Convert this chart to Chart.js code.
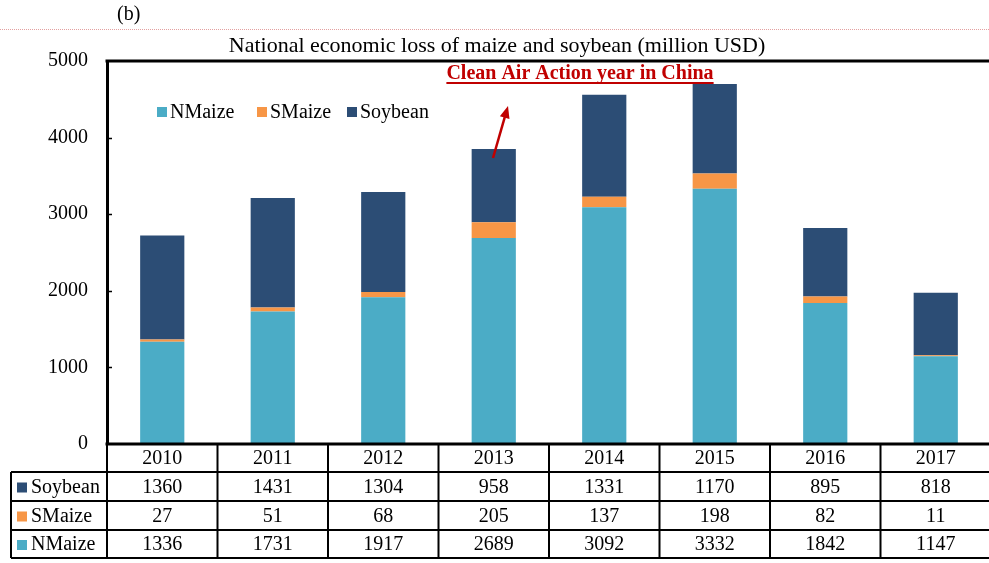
<!DOCTYPE html>
<html>
<head>
<meta charset="utf-8">
<script src="https://cdn.jsdelivr.net/npm/chart.js@4"></script>
<style>
  body { margin: 0; overflow: hidden; background: #fff; }
</style>
</head>
<body>
<canvas id="loss" width="995" height="563"></canvas>
<script>
const years = ['2010', '2011', '2012', '2013', '2014', '2015', '2016', '2017'];
const nmaize = [1336, 1731, 1917, 2689, 3092, 3332, 1842, 1147];
const smaize = [27, 51, 68, 205, 137, 198, 82, 11];
const soybean = [1360, 1431, 1304, 958, 1331, 1170, 895, 818];
const yTicks = [0, 1000, 2000, 3000, 4000, 5000];

const serif = "'Liberation Serif', 'Times New Roman', serif";
const colors = { NMaize: '#4BACC6', SMaize: '#F79646', Soybean: '#2C4D75' };

// table rows, top to bottom
const tableRows = [
    { name: 'Soybean', values: soybean },
    { name: 'SMaize', values: smaize },
    { name: 'NMaize', values: nmaize }
];

const extras = {
    id: 'extras',
    afterDraw(chart) {
        const ctx = chart.ctx;
        const area = chart.chartArea;
        const x = chart.scales.x;
        const y = chart.scales.y;
        const W = chart.width;
        ctx.save();

        // (b) and dotted line
        ctx.fillStyle = '#000';
        ctx.font = '20px ' + serif;
        ctx.textAlign = 'left';
        ctx.textBaseline = 'middle';
        ctx.fillText('(b)', 117, 15);
        ctx.strokeStyle = '#e3a0a0';
        ctx.lineWidth = 1;
        ctx.setLineDash([1, 1]);
        ctx.beginPath();
        ctx.moveTo(0, 29.5);
        ctx.lineTo(W, 29.5);
        ctx.stroke();
        ctx.setLineDash([]);

        // title
        ctx.font = '22px ' + serif;
        ctx.textAlign = 'center';
        ctx.fillText('National economic loss of maize and soybean (million USD)', 497, 46);

        // frame top + bottom axis
        ctx.strokeStyle = '#000';
        ctx.lineWidth = 3;
        ctx.beginPath();
        ctx.moveTo(area.left - 1.5, area.top);
        ctx.lineTo(W, area.top);
        ctx.moveTo(area.left - 1.5, area.bottom);
        ctx.lineTo(W, area.bottom);
        ctx.stroke();

        // inside tick marks
        ctx.lineWidth = 1.5;
        ctx.beginPath();
        yTicks.slice(1, -1).forEach(v => {
            const py = Math.round(y.getPixelForValue(v)) + 0.5;
            ctx.moveTo(area.left, py);
            ctx.lineTo(area.left + 5, py);
        });
        ctx.stroke();

        // legend
        ctx.font = '20px ' + serif;
        ctx.textAlign = 'left';
        const legendItems = [['NMaize', 157], ['SMaize', 257], ['Soybean', 347]];
        legendItems.forEach(([name, lx]) => {
            ctx.fillStyle = colors[name];
            ctx.fillRect(lx, 107, 10, 10);
            ctx.fillStyle = '#000';
            ctx.fillText(name, lx + 13, 113);
        });

        // annotation
        ctx.fillStyle = '#C00000';
        ctx.font = 'bold 20px ' + serif;
        ctx.textAlign = 'center';
        const note = 'Clean Air Action year in China';
        ctx.fillText(note, 580, 74);
        const nw = ctx.measureText(note).width;
        ctx.fillRect(580 - nw / 2, 82, nw, 2);

        // arrow
        const ax0 = 493, ay0 = 158, ax1 = 508, ay1 = 106;
        const ang = Math.atan2(ay1 - ay0, ax1 - ax0);
        ctx.strokeStyle = '#C00000';
        ctx.lineWidth = 2.5;
        ctx.beginPath();
        ctx.moveTo(ax0, ay0);
        ctx.lineTo(ax1 - 8 * Math.cos(ang), ay1 - 8 * Math.sin(ang));
        ctx.stroke();
        ctx.beginPath();
        ctx.moveTo(ax1, ay1);
        ctx.lineTo(ax1 - 12 * Math.cos(ang) + 5 * Math.sin(ang), ay1 - 12 * Math.sin(ang) - 5 * Math.cos(ang));
        ctx.lineTo(ax1 - 12 * Math.cos(ang) - 5 * Math.sin(ang), ay1 - 12 * Math.sin(ang) + 5 * Math.cos(ang));
        ctx.closePath();
        ctx.fill();

        // data table
        const rowY = [area.bottom, 472, 501, 530, 558];
        const half = (x.getPixelForValue(1) - x.getPixelForValue(0)) / 2;
        const tableLeft = 11;
        ctx.strokeStyle = '#000';
        ctx.lineWidth = 2;
        ctx.beginPath();
        for (let i = 1; i < rowY.length; i++) {
            ctx.moveTo(tableLeft, rowY[i]);
            ctx.lineTo(W, rowY[i]);
        }
        ctx.moveTo(tableLeft, rowY[1]);
        ctx.lineTo(tableLeft, rowY[4]);
        ctx.moveTo(area.left, rowY[0]);
        ctx.lineTo(area.left, rowY[4]);
        years.forEach((yr, i) => {
            const bx = x.getPixelForValue(i) + half;
            ctx.moveTo(bx, rowY[0]);
            ctx.lineTo(bx, rowY[4]);
        });
        ctx.stroke();

        ctx.fillStyle = '#000';
        ctx.font = '20px ' + serif;
        ctx.textAlign = 'center';
        years.forEach((yr, i) => {
            ctx.fillText(yr, x.getPixelForValue(i), (rowY[0] + rowY[1]) / 2 + 1);
        });
        tableRows.forEach((row, r) => {
            const cy = (rowY[r + 1] + rowY[r + 2]) / 2 + 1;
            ctx.fillStyle = colors[row.name];
            ctx.fillRect(17, cy - 5, 10, 10);
            ctx.fillStyle = '#000';
            ctx.textAlign = 'left';
            ctx.fillText(row.name, 31, cy);
            ctx.textAlign = 'center';
            row.values.forEach((v, i) => {
                ctx.fillText(String(v), x.getPixelForValue(i), cy);
            });
        });
        ctx.restore();
    }
};

const lossChart = new Chart(document.getElementById('loss').getContext('2d'), {
    type: 'bar',
    data: {
        labels: years,
        datasets: [
            { label: 'NMaize', data: nmaize, backgroundColor: colors.NMaize, borderWidth: 0 },
            { label: 'SMaize', data: smaize, backgroundColor: colors.SMaize, borderWidth: 0 },
            { label: 'Soybean', data: soybean, backgroundColor: colors.Soybean, borderWidth: 0 }
        ]
    },
    options: {
        responsive: false,
        animation: false,
        layout: {
            padding: { top: 61, bottom: 119, left: 0, right: 4 }
        },
        datasets: {
            bar: { categoryPercentage: 1, barPercentage: 0.4 }
        },
        scales: {
            x: {
                stacked: true,
                display: false
            },
            y: {
                stacked: true,
                min: 0,
                max: 5000,
                afterFit(scale) { scale.width = 107; },
                afterBuildTicks(scale) { scale.ticks = yTicks.map(v => ({ value: v })); },
                grid: { display: false, drawTicks: false },
                border: { display: true, color: '#000', width: 3 },
                ticks: {
                    padding: 19,
                    color: '#000',
                    font: { family: serif, size: 20 },
                    callback: v => String(v)
                }
            }
        },
        plugins: {
            legend: { display: false },
            tooltip: { enabled: false }
        }
    },
    plugins: [extras]
});
</script>
</body>
</html>
